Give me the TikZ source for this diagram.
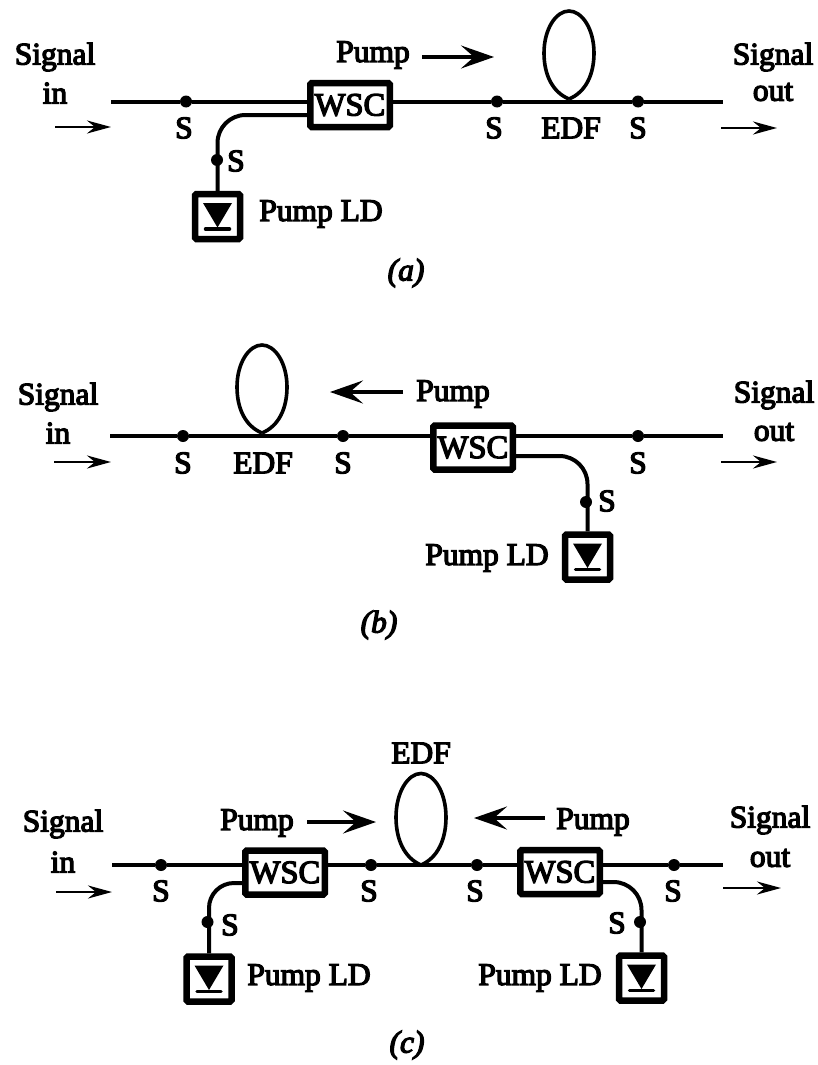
\documentclass[tikz,border=0pt]{standalone}
\usepackage{fontspec}
\setmainfont{Liberation Serif}[FakeBold=4]
\usetikzlibrary{arrows.meta}
\tikzset{
	txt/.style={inner sep=0pt,font=\fontsize{31.5}{34}\selectfont},
	wsc/.style={draw,line width=6.5pt,rounded corners=1.5pt,minimum width=79.5pt,minimum height=44pt,inner sep=0pt,font=\fontsize{32.5}{34}\selectfont},
	ldbox/.style={draw,line width=6.5pt,rounded corners=1.5pt,minimum size=45pt,inner sep=0pt},
	sdot/.style={circle,fill,minimum size=12pt,inner sep=0pt},
	fiber/.style={line width=4pt},
	sigarrow/.style={line width=2.8pt,-{Stealth[length=24pt,width=13pt,inset=8pt]}},
	pumparrow/.style={line width=3.4pt,-{Stealth[length=33pt,width=23pt,inset=13pt]}},
	laserdiode/.pic={
		\fill (-14.5,-13.5) -- (14.5,-13.5) -- (0,11) -- cycle;
		\draw[line width=3.5pt,line cap=round] (-12,12.5) -- (12,12.5);
	},
	fiberloop/.pic={
		\draw[line width=3.6pt] (0,0) .. controls (-17,-7) and (-25,-25) .. (-25,-46)
			.. controls (-25,-70) and (-13,-88) .. (0,-88)
			.. controls (13,-88) and (25,-70) .. (25,-46)
			.. controls (25,-25) and (17,-7) .. (0,0);
	}
}
\begin{document}
\begin{tikzpicture}[x=1pt,y=-1pt]
	\useasboundingbox (0,0) rectangle (817,1065);

	% (a)
	\coordinate (a in) at (111,101.5);
	\coordinate (a out) at (723,101.5);
	\coordinate (a port) at (307,115);
	\coordinate (a knot) at (569,99);
	\coordinate (a sl) at (55,127);
	\coordinate (a sr) at (111,127);
	\coordinate (a ol) at (721,128);
	\coordinate (a or) at (777,128);
	\node[wsc] (a wsc) at (350,105) {WSC};
	\node[ldbox] (a ld) at (217.5,216.5) {};
	\node[sdot] (a s1) at (186,101.5) {};
	\node[sdot] (a s2) at (497,101.5) {};
	\node[sdot] (a s3) at (638,101.5) {};
	\node[sdot] (a s4) at (217,160) {};
	\draw[fiber] (a in) -- (a s1) -- (a wsc.west |- a s1);
	\draw[fiber] (a wsc.east |- a s2) -- (a s2) -- (a s3) -- (a out);
	\draw[fiber,rounded corners=28pt] (a port) -| (a ld.north);
	\pic at (a knot) {fiberloop};
	\pic at (a ld) {laserdiode};
	\draw[sigarrow] (a sl) -- (a sr);
	\draw[sigarrow] (a ol) -- (a or);
	\node[txt] (a lsig) at (55,57) {Signal};
	\node[txt] (a lin) at (55,93) {in};
	\node[txt] (a lp) at (373,55) {Pump};
	\coordinate (a pl) at (422,57);
	\coordinate (a pr) at (494,57);
	\draw[pumparrow] (a pl) -- (a pr);
	\node[txt] (a rsig) at (773,57) {Signal};
	\node[txt] (a rout) at (773,92) {out};
	\node[txt] (a t1) at (184,128) {S};
	\node[txt] (a t2) at (494,128) {S};
	\node[txt] (a edf) at (571,128) {EDF};
	\node[txt] (a t3) at (638,128) {S};
	\node[txt] (a t4) at (236,161) {S};
	\node[txt] (a lld) at (321,214) {Pump LD};
	\node[txt] (a cap) at (406,273) {\itshape (a)};

	% (b)
	\coordinate (b in) at (110,436);
	\coordinate (b out) at (723,436);
	\coordinate (b port) at (516,456);
	\coordinate (b knot) at (262,433);
	\coordinate (b sl) at (54,462);
	\coordinate (b sr) at (111,462);
	\coordinate (b ol) at (721,462);
	\coordinate (b or) at (777,462);
	\node[wsc] (b wsc) at (473,447.5) {WSC};
	\node[ldbox] (b ld) at (587.5,557) {};
	\node[sdot] (b s1) at (183,436) {};
	\node[sdot] (b s2) at (343,436) {};
	\node[sdot] (b s3) at (638,436) {};
	\node[sdot] (b s4) at (586,502) {};
	\draw[fiber] (b in) -- (b s1) -- (b s2) -- (b wsc.west |- b s2);
	\draw[fiber] (b wsc.east |- b s3) -- (b s3) -- (b out);
	\draw[fiber,rounded corners=28pt] (b port) -| (b ld.north);
	\pic at (b knot) {fiberloop};
	\pic at (b ld) {laserdiode};
	\draw[sigarrow] (b sl) -- (b sr);
	\draw[sigarrow] (b ol) -- (b or);
	\node[txt] (b lsig) at (58,397) {Signal};
	\node[txt] (b lin) at (58,433) {in};
	\node[txt] (b lp) at (453,394) {Pump};
	\coordinate (b pl) at (330,392);
	\coordinate (b pr) at (403,392);
	\draw[pumparrow] (b pr) -- (b pl);
	\node[txt] (b rsig) at (774,395) {Signal};
	\node[txt] (b rout) at (774,432) {out};
	\node[txt] (b t1) at (183,463) {S};
	\node[txt] (b edf) at (263,463) {EDF};
	\node[txt] (b t2) at (343,463) {S};
	\node[txt] (b t3) at (638,463) {S};
	\node[txt] (b t4) at (607,501) {S};
	\node[txt] (b lld) at (487,558) {Pump LD};
	\node[txt] (b cap) at (379,625) {\itshape (b)};

	% (c)
	\coordinate (c in) at (112,865);
	\coordinate (c out) at (723,865);
	\coordinate (c portl) at (242,883);
	\coordinate (c portr) at (603,882);
	\coordinate (c knot) at (421,865);
	\coordinate (c sl) at (56,892);
	\coordinate (c sr) at (112,892);
	\coordinate (c ol) at (723,888);
	\coordinate (c or) at (781,888);
	\node[wsc] (c wscl) at (285,872.5) {WSC};
	\node[wsc] (c wscr) at (560,872) {WSC};
	\node[ldbox] (c ldl) at (209,979) {};
	\node[ldbox] (c ldr) at (641.5,978) {};
	\node[sdot] (c s1) at (161,865) {};
	\node[sdot] (c s2) at (371,865) {};
	\node[sdot] (c s3) at (477,865) {};
	\node[sdot] (c s4) at (674,865) {};
	\node[sdot] (c s5) at (207.5,922) {};
	\node[sdot] (c s6) at (640,922) {};
	\draw[fiber] (c in) -- (c s1) -- (c wscl.west |- c s1);
	\draw[fiber] (c wscl.east |- c s2) -- (c s2) -- (c s3) -- (c wscr.west |- c s3);
	\draw[fiber] (c wscr.east |- c s4) -- (c s4) -- (c out);
	\draw[fiber,rounded corners=25pt] (c portl) -| (c ldl.north);
	\draw[fiber,rounded corners=28pt] (c portr) -| (c ldr.north);
	\pic[yscale=1.04] at (c knot) {fiberloop};
	\pic at (c ldl) {laserdiode};
	\pic at (c ldr) {laserdiode};
	\draw[sigarrow] (c sl) -- (c sr);
	\draw[sigarrow] (c ol) -- (c or);
	\node[txt] (c edf) at (421,753) {EDF};
	\node[txt] (c lsig) at (63,824) {Signal};
	\node[txt] (c lin) at (63,862) {in};
	\node[txt] (c lpl) at (257,823) {Pump};
	\node[txt] (c lpr) at (593,822) {Pump};
	\coordinate (c pl) at (307,822);
	\coordinate (c pr) at (376,822);
	\coordinate (c ql) at (474,818);
	\coordinate (c qr) at (545,818);
	\draw[pumparrow] (c pl) -- (c pr);
	\draw[pumparrow] (c qr) -- (c ql);
	\node[txt] (c rsig) at (770,820) {Signal};
	\node[txt] (c rout) at (770,858) {out};
	\node[txt] (c t1) at (161,891) {S};
	\node[txt] (c t2) at (369,891) {S};
	\node[txt] (c t3) at (475,891) {S};
	\node[txt] (c t4) at (673,891) {S};
	\node[txt] (c t5) at (230,925) {S};
	\node[txt] (c t6) at (617,923) {S};
	\node[txt] (c lldl) at (309,978) {Pump LD};
	\node[txt] (c lldr) at (540,978) {Pump LD};
	\node[txt] (c cap) at (407,1045) {\itshape (c)};
\end{tikzpicture}
\end{document}
